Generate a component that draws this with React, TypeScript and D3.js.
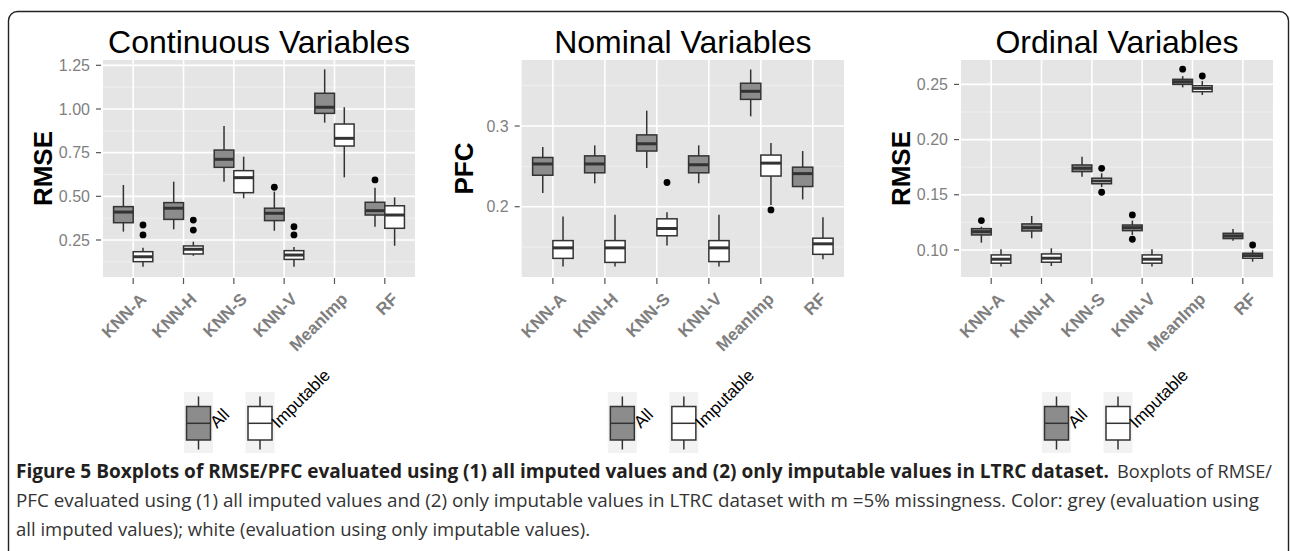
import React from "react";
import * as d3 from "d3";

// ---------- data ----------
const categories = ["KNN-A", "KNN-H", "KNN-S", "KNN-V", "MeanImp", "RF"];
const seriesNames = ["All", "Imputable"];

// box stats: [lower whisker, q1, median, q3, upper whisker]
const contAll = [
  [0.298, 0.349, 0.41, 0.441, 0.565],
  [0.311, 0.368, 0.432, 0.464, 0.584],
  [0.584, 0.666, 0.712, 0.765, 0.903],
  [0.303, 0.361, 0.403, 0.432, 0.527],
  [0.922, 0.975, 1.01, 1.09, 1.227],
  [0.326, 0.393, 0.418, 0.466, 0.549],
];
const contAllOut = [[], [], [], [0.552], [], [0.594]];
const contImp = [
  [0.097, 0.126, 0.154, 0.183, 0.205],
  [0.16, 0.17, 0.197, 0.216, 0.24],
  [0.489, 0.521, 0.607, 0.647, 0.727],
  [0.097, 0.139, 0.164, 0.189, 0.21],
  [0.609, 0.788, 0.832, 0.914, 1.01],
  [0.217, 0.317, 0.393, 0.446, 0.494],
];
const contImpOut = [[0.279, 0.336], [0.307, 0.364], [], [0.279, 0.326], [], []];

const nomAll = [
  [0.217, 0.239, 0.253, 0.261, 0.274],
  [0.229, 0.242, 0.253, 0.263, 0.276],
  [0.248, 0.269, 0.278, 0.289, 0.319],
  [0.229, 0.242, 0.252, 0.263, 0.276],
  [0.312, 0.333, 0.343, 0.353, 0.37],
  [0.209, 0.225, 0.241, 0.249, 0.269],
];
const nomAllOut = [[], [], [], [], [], []];
const nomImp = [
  [0.126, 0.136, 0.149, 0.158, 0.188],
  [0.126, 0.131, 0.149, 0.158, 0.19],
  [0.152, 0.164, 0.173, 0.185, 0.193],
  [0.126, 0.132, 0.149, 0.158, 0.19],
  [0.202, 0.238, 0.254, 0.264, 0.279],
  [0.135, 0.141, 0.154, 0.161, 0.187],
];
const nomImpOut = [[], [], [0.23], [], [0.196], []];

const ordAll = [
  [0.1066, 0.1136, 0.1166, 0.1193, 0.121],
  [0.1106, 0.1172, 0.1202, 0.1236, 0.1308],
  [0.1664, 0.171, 0.174, 0.177, 0.1845],
  [0.1136, 0.1175, 0.1202, 0.1226, 0.1266],
  [0.2473, 0.25, 0.2524, 0.2546, 0.2575],
  [0.1084, 0.1103, 0.1127, 0.1151, 0.119],
];
const ordAllOut = [[0.1266], [], [], [0.1317, 0.1097], [0.2638], []];
const ordImp = [
  [0.0849, 0.088, 0.0916, 0.0955, 0.1006],
  [0.0855, 0.0889, 0.0925, 0.0964, 0.1015],
  [0.157, 0.16, 0.1625, 0.165, 0.1695],
  [0.0849, 0.088, 0.0916, 0.0955, 0.1006],
  [0.2404, 0.2434, 0.2464, 0.2488, 0.253],
  [0.0894, 0.0925, 0.0949, 0.097, 0.1],
];
const ordImpOut = [[], [], [0.174, 0.1523], [], [0.2576], [0.1045]];

const contTicks = [0.25, 0.5, 0.75, 1.0, 1.25];
const nomTicks = [0.2, 0.3];
const ordTicks = [0.1, 0.15, 0.2, 0.25];

const titles = ["Continuous Variables", "Nominal Variables", "Ordinal Variables"];
const yTitles = ["RMSE", "PFC", "RMSE"];

const captionBold =
  "Figure 5 Boxplots of RMSE/PFC evaluated using (1) all imputed values and (2) only imputable values in LTRC dataset.";
const captionLine1 = "Boxplots of RMSE/";
const captionLine2 =
  "PFC evaluated using (1) all imputed values and (2) only imputable values in LTRC dataset with m =5% missingness. Color: grey (evaluation using";
const captionLine3 = "all imputed values); white (evaluation using only imputable values).";

// ---------- layout ----------
const W = 1290;
const H = 551;
const TOP = 60;
const BOTTOM = 277;
const FILLS = ["#8c8c8c", "#ffffff"];
const FONT = "'Liberation Sans', Arial, Helvetica, sans-serif";

const panels = [
  {
    left: 103, right: 415, domain: [0.0382, 1.2805], ticks: contTicks, fmt: d3.format(".2f"),
    minor: [0.125, 0.375, 0.625, 0.875, 1.125], all: contAll, allOut: contAllOut, imp: contImp, impOut: contImpOut,
    titleX: 52,
  },
  {
    left: 521.7, right: 844, domain: [0.1129, 0.3818], ticks: nomTicks, fmt: d3.format(".1f"),
    minor: [0.15, 0.25, 0.35], all: nomAll, allOut: nomAllOut, imp: nomImp, impOut: nomImpOut,
    titleX: 473,
  },
  {
    left: 961, right: 1273, domain: [0.0755, 0.2721], ticks: ordTicks, fmt: d3.format(".2f"),
    minor: [0.075, 0.125, 0.175, 0.225], all: ordAll, allOut: ordAllOut, imp: ordImp, impOut: ordImpOut,
    titleX: 910,
  },
];

function Box({ cx, w, s, y, fill }: any) {
  const [lo, q1, med, q3, hi] = s;
  return (
    <g>
      <line x1={cx} x2={cx} y1={y(hi)} y2={y(q3)} stroke="#333" strokeWidth={1.5} />
      <line x1={cx} x2={cx} y1={y(q1)} y2={y(lo)} stroke="#333" strokeWidth={1.5} />
      <rect x={cx - w / 2} y={y(q3)} width={w} height={Math.max(0.5, y(q1) - y(q3))} fill={fill} stroke="#333" strokeWidth={1.5} />
      <line x1={cx - w / 2} x2={cx + w / 2} y1={y(med)} y2={y(med)} stroke="#333" strokeWidth={3} />
    </g>
  );
}

function Panel({ p, idx }: any) {
  const x = d3.scalePoint<string>().domain(categories).range([p.left, p.right]).padding(0.6);
  const y = d3.scaleLinear().domain(p.domain).range([BOTTOM, TOP]);
  const step = x.step();
  const bw = step * 0.39;
  const off = step * 0.195;
  const cxMid = (p.left + p.right) / 2;
  const series = [
    { stats: p.all, out: p.allOut, fill: FILLS[0], dx: -off },
    { stats: p.imp, out: p.impOut, fill: FILLS[1], dx: off },
  ];
  const legX = cxMid - 75;
  return (
    <g>
      <text x={cxMid} y={53} textAnchor="middle" fontSize={32} fontFamily={FONT} fill="#000">
        {titles[idx]}
      </text>
      <rect x={p.left} y={TOP} width={p.right - p.left} height={BOTTOM - TOP} fill="#e5e5e5" />
      {p.minor.filter((v: number) => v >= p.domain[0] && v <= p.domain[1]).map((v: number) => (
        <line key={"mi" + v} x1={p.left} x2={p.right} y1={y(v)} y2={y(v)} stroke="#f2f2f2" strokeWidth={0.8} />
      ))}
      {p.ticks.map((v: number) => (
        <line key={"ma" + v} x1={p.left} x2={p.right} y1={y(v)} y2={y(v)} stroke="#ffffff" strokeWidth={1.6} />
      ))}
      {categories.map((c) => (
        <line key={"vx" + c} x1={x(c)} x2={x(c)} y1={TOP} y2={BOTTOM} stroke="#ffffff" strokeWidth={1.6} />
      ))}
      {series.map((s, si) =>
        categories.map((c, ci) => (
          <g key={si + "-" + c}>
            <Box cx={(x(c) as number) + s.dx} w={bw} s={s.stats[ci]} y={y} fill={s.fill} />
            {s.out[ci].map((o: number, oi: number) => (
              <circle key={oi} cx={(x(c) as number) + s.dx} cy={y(o)} r={3.4} fill="#000" />
            ))}
          </g>
        ))
      )}
      {/* y axis */}
      {p.ticks.map((v: number) => (
        <g key={"yt" + v}>
          <line x1={p.left - 7} x2={p.left - 2} y1={y(v)} y2={y(v)} stroke="#555" strokeWidth={1.2} />
          <text x={p.left - 13} y={y(v)} dy="0.35em" textAnchor="end" fontSize={16} fontFamily={FONT} fill="#7f7f7f">
            {p.fmt(v)}
          </text>
        </g>
      ))}
      <text
        transform={`translate(${p.titleX},${(TOP + BOTTOM) / 2}) rotate(-90)`}
        textAnchor="middle" fontSize={26} fontWeight="bold" fontFamily={FONT} fill="#000"
      >
        {yTitles[idx]}
      </text>
      {/* x axis */}
      {categories.map((c) => (
        <g key={"xt" + c}>
          <line x1={x(c)} x2={x(c)} y1={BOTTOM + 1} y2={BOTTOM + 7} stroke="#555" strokeWidth={1.2} />
          <text
            transform={`translate(${(x(c) as number) + 7},${BOTTOM + 16}) rotate(-45)`}
            textAnchor="end" dy="0.6em" fontSize={17} fontWeight="bold" fontFamily={FONT} fill="#7f7f7f"
          >
            {c}
          </text>
        </g>
      ))}
      {/* legend */}
      {seriesNames.map((nm, i) => {
        const bx = legX + i * 61.5;
        const kcx = bx + 14.5;
        return (
          <g key={"lg" + nm}>
            <rect x={bx} y={392} width={29} height={61} fill="#f2f2f2" />
            <line x1={kcx} x2={kcx} y1={396.5} y2={449.5} stroke="#333" strokeWidth={1.5} />
            <rect x={bx + 2.5} y={406.5} width={24} height={33.5} fill={FILLS[i]} stroke="#333" strokeWidth={1.5} />
            <line x1={bx + 2.5} x2={bx + 26.5} y1={423.3} y2={423.3} stroke="#333" strokeWidth={1.5} />
            <text
              transform={`translate(${bx + 33},${429}) rotate(-45)`}
              fontSize={17} fontFamily={FONT} fill="#000"
            >
              {nm}
            </text>
          </g>
        );
      })}
    </g>
  );
}

export default function App() {
  const capFont = "'Open Sans', 'Noto Sans', sans-serif";
  return (
    <svg width={W} height={H} style={{ position: "absolute", left: 0, top: 0, background: "#fff" }}>
      <rect x={0} y={0} width={W} height={H} fill="#fff" />
      <rect x={8.5} y={11.5} width={1280} height={620} rx={9} fill="none" stroke="#222" strokeWidth={1.4} />
      {panels.map((p, i) => (
        <Panel key={i} p={p} idx={i} />
      ))}
      <text x={16} y={478} fontSize={19} fontWeight="bold" fontFamily={capFont} fill="#231f20"
        textLength={1093} lengthAdjust="spacingAndGlyphs">
        {captionBold}
      </text>
      <text x={1117} y={478} fontSize={19} fontFamily={capFont} fill="#333"
        textLength={155} lengthAdjust="spacingAndGlyphs">
        {captionLine1}
      </text>
      <text x={16} y={507} fontSize={19} fontFamily={capFont} fill="#333"
        textLength={1243} lengthAdjust="spacingAndGlyphs">
        {captionLine2}
      </text>
      <text x={16} y={536} fontSize={19} fontFamily={capFont} fill="#333"
        textLength={574} lengthAdjust="spacingAndGlyphs">
        {captionLine3}
      </text>
    </svg>
  );
}
